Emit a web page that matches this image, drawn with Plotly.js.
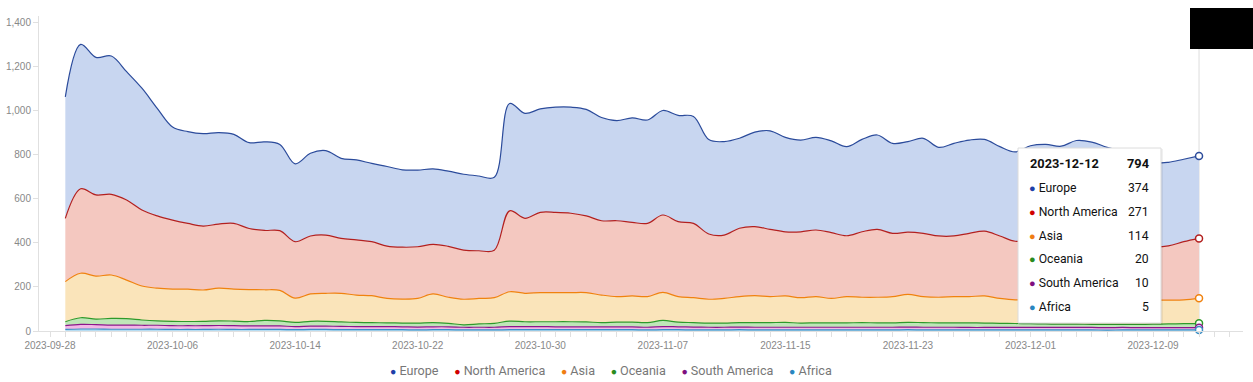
<!DOCTYPE html>
<html><head><meta charset="utf-8">
<script src="https://cdn.plot.ly/plotly-3.0.1.min.js"></script>
<style>html,body{margin:0;padding:0;background:#fff;} #chart{width:1253px;height:382px;}</style>
</head><body><div id="chart"></div>
<script>
const dates = [
'2023-09-29','2023-09-30',
'2023-10-01','2023-10-02','2023-10-03','2023-10-04','2023-10-05','2023-10-06','2023-10-07','2023-10-08','2023-10-09','2023-10-10',
'2023-10-11','2023-10-12','2023-10-13','2023-10-14','2023-10-15','2023-10-16','2023-10-17','2023-10-18','2023-10-19','2023-10-20',
'2023-10-21','2023-10-22','2023-10-23','2023-10-24','2023-10-25','2023-10-26','2023-10-27','2023-10-28','2023-10-29','2023-10-30','2023-10-31',
'2023-11-01','2023-11-02','2023-11-03','2023-11-04','2023-11-05','2023-11-06','2023-11-07','2023-11-08','2023-11-09','2023-11-10',
'2023-11-11','2023-11-12','2023-11-13','2023-11-14','2023-11-15','2023-11-16','2023-11-17','2023-11-18','2023-11-19','2023-11-20',
'2023-11-21','2023-11-22','2023-11-23','2023-11-24','2023-11-25','2023-11-26','2023-11-27','2023-11-28','2023-11-29','2023-11-30',
'2023-12-01','2023-12-02','2023-12-03','2023-12-04','2023-12-05','2023-12-06','2023-12-07','2023-12-08','2023-12-09','2023-12-10',
'2023-12-11','2023-12-12'];

const europe = [551,655,624,627,582,552,488,422,416,419,
 415,404,389,402,391,353,375,383,363,363,
 355,361,351,348,342,341,344,339,331,487,
 476,469,477,481,483,468,454,474,469,474,
 482,485,428,424,408,429,447,428,416,420,
 416,404,419,428,408,411,431,402,420,423,
 416,405,405,430,432,420,440,439,423,415,
 395,380,379,374,374];
const northAmerica = [287,383,368,366,363,345,328,313,298,290,
 291,298,277,269,271,256,263,264,249,250,
 245,237,235,234,225,231,223,216,215,367,
 340,364,364,360,348,337,344,334,332,351,
 340,337,296,287,310,313,305,291,299,302,
 298,276,297,308,287,282,287,278,275,287,
 294,283,266,268,271,274,279,274,268,259,
 249,242,246,264,271];
const asia = [182,202,195,197,175,154,148,146,147,142,
 148,145,145,139,138,110,124,127,130,124,
 122,111,109,112,130,118,116,116,116,133,
 129,132,132,132,133,125,116,119,118,127,
 116,113,108,112,118,122,118,120,115,119,
 111,119,115,116,119,127,118,116,119,119,
 123,113,107,109,111,113,114,114,112,111,
 111,109,108,108,114];
const oceania = [18,30,25,30,29,24,20,20,19,20,
 21,21,20,25,23,19,22,22,20,19,
 18,17,17,18,19,16,11,15,18,25,
 22,22,23,23,22,19,21,21,21,28,
 21,20,19,19,20,21,21,22,19,20,
 20,20,21,20,20,21,21,20,20,21,
 20,19,18,17,16,15,15,14,15,14,
 15,16,17,18,20];
const southAmerica = [17,21,20,19,19,18,18,17,17,17,
 17,17,16,16,16,14,15,15,15,14,
 14,14,13,13,13,13,12,12,12,14,
 14,14,13,13,13,13,13,13,12,14,
 13,13,12,12,12,12,12,12,12,12,
 12,12,12,12,12,12,12,12,12,11,
 11,11,11,11,11,11,11,11,11,11,
 10,10,10,10,10];
const africa = [7,9,9,8,8,8,8,7,7,7,
 8,7,7,7,7,6,7,7,6,6,
 6,6,6,5,6,6,5,5,5,6,
 6,6,6,6,6,6,6,6,5,6,
 6,5,5,5,6,5,5,5,5,5,
 5,5,5,5,5,6,5,5,5,5,
 5,5,5,5,5,5,5,5,4,5,
 5,5,5,5,5];

const regionNames = ['Europe','North America','Asia','Oceania','South America','Africa'];
const regionValues = [europe, northAmerica, asia, oceania, southAmerica, africa];
const lineColors = ['#2b4b9b','#b3201f','#f0820f','#2e9a2a','#8c168c','#3d8fc4'];
const fillColors = ['#c8d6f0','#f4c8c0','#fae4ba','#bfe6b8','#f2b8e6','#b5dcf2'];
const dotColors  = ['#1f3fa8','#d00000','#f07d12','#2a8c1e','#7f0f7f','#2a86bf'];

const traces = [];
for (let i = regionNames.length - 1; i >= 0; i--) {
  traces.push({
    type: 'scatter', mode: 'lines', name: regionNames[i],
    x: dates, y: regionValues[i], stackgroup: 'one',
    line: {color: lineColors[i], width: 1.2, shape: 'spline', smoothing: 1},
    fillcolor: fillColors[i], showlegend: false, hoverinfo: 'skip'
  });
}
const last = dates.length - 1;
const lastVals = regionValues.map(v => v[last]);
const cum = [];
for (let i = 0; i < regionNames.length; i++) {
  let s = 0;
  for (let j = i; j < regionNames.length; j++) s += lastVals[j];
  cum.push(s);
}
traces.push({
  type: 'scatter', mode: 'markers', x: regionNames.map(() => dates[last]), y: cum,
  marker: {size: 7, color: '#ffffff', line: {color: lineColors, width: 1.5}},
  showlegend: false, hoverinfo: 'skip', cliponaxis: false
});

const W = 1253, H = 382, L = 39, R = 10, T = 16, B = 51;
const pw = W - L - R, ph = H - T - B;
const px = p => (p - L) / pw;
const py = p => (H - B - p) / ph;

const annotations = [];
const legendText = regionNames.map((n, i) =>
  '<span style="color:' + dotColors[i] + ';font-size:10.5px">●</span>\u00A0' + n).join('\u00A0\u00A0\u00A0\u00A0\u00A0');
annotations.push({xref: 'paper', yref: 'paper', x: px(611), y: py(370), xanchor: 'center', yanchor: 'middle',
  showarrow: false, text: legendText, font: {family: 'Roboto, sans-serif', size: 12.6, color: '#777'}});

const total = lastVals.reduce((a, b) => a + b, 0);
const tipFont = {family: 'Roboto, sans-serif', size: 12.2, color: '#111'};
annotations.push({xref: 'paper', yref: 'paper', x: px(1028), y: py(163), xanchor: 'left', yanchor: 'middle',
  showarrow: false, text: '<b>' + dates[last] + '</b>', font: {family: 'Roboto, sans-serif', size: 12.8, color: '#111'}});
annotations.push({xref: 'paper', yref: 'paper', x: px(1151), y: py(163), xanchor: 'right', yanchor: 'middle',
  showarrow: false, text: '<b>' + total + '</b>', font: {family: 'Roboto, sans-serif', size: 12.8, color: '#111'}});
regionNames.forEach((n, i) => {
  const yy = py(188 + i * 23.8);
  annotations.push({xref: 'paper', yref: 'paper', x: px(1027), y: yy, xanchor: 'left', yanchor: 'middle',
    showarrow: false, text: '<span style="color:' + dotColors[i] + ';font-size:11px">●</span>\u00A0' + n, font: tipFont});
  annotations.push({xref: 'paper', yref: 'paper', x: px(1151), y: yy, xanchor: 'right', yanchor: 'middle',
    showarrow: false, text: String(lastVals[i]), font: tipFont});
});

const shapes = [
  {type: 'line', xref: 'x', yref: 'paper', x0: dates[last], x1: dates[last], y0: 0, y1: 1,
   line: {color: '#dddddd', width: 1}, layer: 'below'},
  {type: 'rect', xref: 'paper', yref: 'paper', x0: px(1019), x1: px(1163), y0: py(325), y1: py(149),
   fillcolor: 'rgba(0,0,0,0.06)', line: {width: 0}},
  {type: 'rect', xref: 'paper', yref: 'paper', x0: px(1018), x1: px(1161), y0: py(323), y1: py(148),
   fillcolor: '#ffffff', line: {color: '#dcdcdc', width: 1}},
  {type: 'rect', xref: 'paper', yref: 'paper', x0: px(1190), x1: px(1254), y0: py(49), y1: py(8),
   fillcolor: '#000000', line: {width: 0}}
];

const layout = {
  width: W, height: H,
  margin: {l: L, r: R, t: T, b: B, pad: 0},
  paper_bgcolor: '#ffffff', plot_bgcolor: '#ffffff',
  showlegend: false,
  xaxis: {
    type: 'date', range: ['2023-09-27 06:46', '2023-12-14 20:53'],
    tick0: '2023-09-28', dtick: 8 * 86400000, tickformat: '%Y-%m-%d',
    showgrid: false, zeroline: false, showline: true, linecolor: '#e0e0e0', linewidth: 1,
    ticks: 'outside', ticklen: 5, tickcolor: '#e0e0e0',
    minor: {dtick: 86400000, ticks: 'outside', ticklen: 5, tickcolor: '#e0e0e0', showgrid: false},
    tickfont: {family: 'Liberation Sans, Arial, sans-serif', size: 10, color: '#888'}
  },
  yaxis: {
    range: [0, 1428.6], tickvals: [0, 200, 400, 600, 800, 1000, 1200, 1400], tickformat: ',d',
    showgrid: false, zeroline: false, showline: true, linecolor: '#e0e0e0', linewidth: 1,
    ticks: 'outside', ticklen: 5, tickcolor: '#e0e0e0',
    tickfont: {family: 'Liberation Sans, Arial, sans-serif', size: 10, color: '#888'}
  },
  annotations: annotations,
  shapes: shapes
};

Plotly.newPlot('chart', traces, layout, {displayModeBar: false, staticPlot: true});
</script>
</body></html>
